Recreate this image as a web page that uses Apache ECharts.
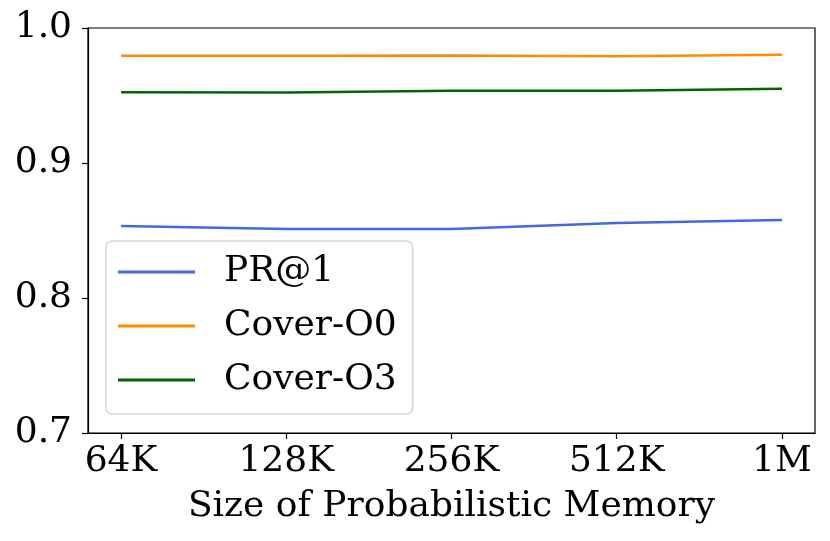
<!DOCTYPE html>
<html>
<head>
<meta charset="utf-8">
<script src="https://cdn.jsdelivr.net/npm/echarts@6/dist/echarts.min.js"></script>
<style>html,body{margin:0;padding:0;background:#fff}#c{width:830px;height:541px}</style>
</head>
<body>
<div id="c"></div>
<script>
var categories = ['64K', '128K', '256K', '512K', '1M'];
var pr1 = [0.8533, 0.8512, 0.8512, 0.8556, 0.8577];
var coverO0 = [0.9795, 0.9794, 0.9796, 0.9790, 0.9802];
var coverO3 = [0.9525, 0.9522, 0.9535, 0.9536, 0.9550];
var yTicks = [0.7, 0.8, 0.9, 1.0];

function pts(arr) { return arr.map(function (v, i) { return [i, v]; }); }
var font = 'DejaVu Serif';
var chart = echarts.init(document.getElementById('c'), null, { renderer: 'canvas' });
chart.setOption({
  animation: false,
  backgroundColor: '#fff',
  grid: { left: 88, right: 15, top: 28, bottom: 108, show: true, borderColor: '#000', borderWidth: 1.2, backgroundColor: 'transparent' },
  xAxis: {
    type: 'value', min: -0.2, max: 4.2,
    name: 'Size of Probabilistic Memory', nameLocation: 'middle', nameGap: 56,
    nameTextStyle: { fontFamily: font, fontSize: 36, color: '#000' },
    axisLine: { show: true, onZero: false, lineStyle: { color: '#000', width: 1.2 } },
    axisTick: { show: true, length: 6, lineStyle: { color: '#000', width: 1.2 }, customValues: [0, 1, 2, 3, 4] },
    axisLabel: { fontFamily: font, fontSize: 36, color: '#000', margin: 11, customValues: [0, 1, 2, 3, 4],
      formatter: function (v) { return categories[Math.round(v)]; } },
    splitLine: { show: false }
  },
  yAxis: {
    type: 'value', min: 0.7, max: 1.0, interval: 0.1,
    axisLine: { show: true, onZero: false, lineStyle: { color: '#000', width: 1.2 } },
    axisTick: { show: true, length: 6, lineStyle: { color: '#000', width: 1.2 } },
    axisLabel: { fontFamily: font, fontSize: 36, color: '#000', margin: 16,
      formatter: function (v) { return v.toFixed(1); } },
    splitLine: { show: false }
  },
  legend: {
    orient: 'vertical', left: 106, top: 241,
    padding: [11, 16, 14, 12],
    backgroundColor: '#fff', borderColor: '#d6d6d6', borderWidth: 1.5, borderRadius: 6,
    icon: 'rect', itemWidth: 77, itemHeight: 3, itemGap: 14,
    textStyle: { fontFamily: font, fontSize: 36, color: '#000', lineHeight: 40, padding: [0, 0, 0, 24] },
    data: ['PR@1', 'Cover-O0', 'Cover-O3']
  },
  series: [
    { name: 'PR@1', type: 'line', data: pts(pr1), symbol: 'none', lineStyle: { color: '#4169E1', width: 2.5 }, itemStyle: { color: '#4169E1' } },
    { name: 'Cover-O0', type: 'line', data: pts(coverO0), symbol: 'none', lineStyle: { color: '#FF8C00', width: 2.5 }, itemStyle: { color: '#FF8C00' } },
    { name: 'Cover-O3', type: 'line', data: pts(coverO3), symbol: 'none', lineStyle: { color: '#006400', width: 2.5 }, itemStyle: { color: '#006400' } }
  ]
});
</script>
</body>
</html>
